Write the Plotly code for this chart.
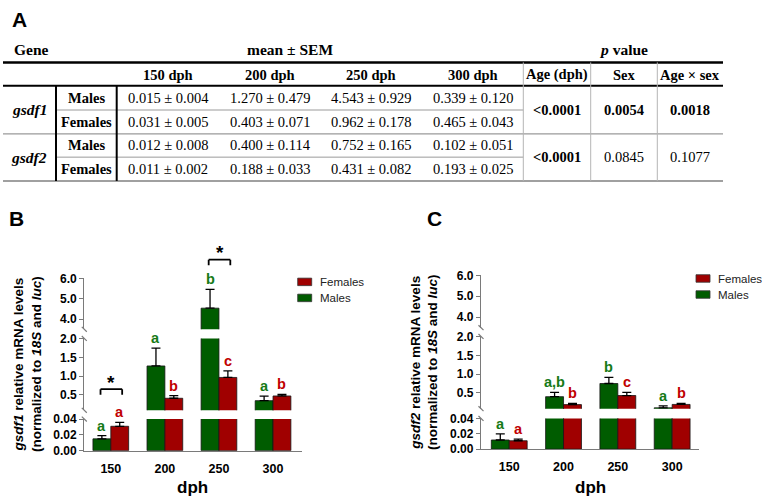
import plotly.graph_objects as go

W, H = 762, 497
def px(x): return x / W
def py(y): return 1 - y / H

# ---------------- data ----------------
dph = ['150', '200', '250', '300']
genes = ['gsdf1', 'gsdf2']
sexes = ['Males', 'Females']

gsdf1_male_mean = [0.015, 1.270, 4.543, 0.339]
gsdf1_male_sem = [0.004, 0.479, 0.929, 0.120]
gsdf1_female_mean = [0.031, 0.403, 0.962, 0.465]
gsdf1_female_sem = [0.005, 0.071, 0.178, 0.043]

gsdf2_male_mean = [0.012, 0.400, 0.752, 0.102]
gsdf2_male_sem = [0.008, 0.114, 0.165, 0.051]
gsdf2_female_mean = [0.011, 0.188, 0.431, 0.193]
gsdf2_female_sem = [0.002, 0.033, 0.082, 0.025]

p_headers = ['Age (dph)', 'Sex', 'Age × sex']
gsdf1_p = ['<0.0001', '0.0054', '0.0018']
gsdf2_p = ['<0.0001', '0.0845', '0.1077']

gsdf1_male_letters = ['a', 'a', 'b', 'a']
gsdf1_female_letters = ['a', 'b', 'c', 'b']
gsdf2_male_letters = ['a', 'a,b', 'b', 'a']
gsdf2_female_letters = ['a', 'b', 'c', 'b']

gsdf1_sig_days = ['150', '250']
gsdf2_sig_days = []

# broken y-axis segments (low, mid, high)
seg_ranges = [(0, 0.0402), (0.08, 2.01), (3.5, 6.02)]
seg_ticks = [[0, 0.02, 0.04], [0.5, 1.0, 1.5, 2.0], [4.0, 5.0, 6.0]]
seg_fmt = ['.2f', '.1f', '.1f']

# ---------------- style ----------------
GREEN = '#005c00'
RED = '#a00000'
GREEN_TXT = '#167a16'
RED_TXT = '#c00000'
AXC = '#7a7a7a'
SANS = 'Liberation Sans, Arial, sans-serif'
SERIF = 'Liberation Serif, Times New Roman, serif'

fig = go.Figure()
shapes = []
annotations = []

def ann(x, y, text, size=14, bold=False, family=SERIF, xanchor='center', color='black', **kw):
    d = dict(x=px(x), y=py(y), xref='paper', yref='paper', text=text, showarrow=False,
             xanchor=xanchor, yanchor='middle',
             font=dict(size=size, family=family, color=color, weight='bold' if bold else 'normal'))
    d.update(kw)
    annotations.append(d)

def hline(y, x0, x1, color, width):
    shapes.append(dict(type='line', xref='paper', yref='paper', x0=px(x0), x1=px(x1),
                       y0=py(y), y1=py(y), line=dict(color=color, width=width)))

def vline(x, y0, y1, color, width):
    shapes.append(dict(type='line', xref='paper', yref='paper', x0=px(x), x1=px(x),
                       y0=py(y0), y1=py(y1), line=dict(color=color, width=width)))

# ---------------- table (panel A) ----------------
ann(10, 12.5, 'A', size=21, bold=True, family=SANS, xanchor='left')
T_L, T_R = 3, 723
row_edges = [81, 106, 130.5, 154.5, 179]
mean_cols = [168, 270, 371, 473]
p_edges = [523.3, 590.7, 657.3, 723]

hline(57, T_L, T_R, 'black', 2.5)
hline(81, T_L, T_R, 'black', 2)
hline(106, 56, p_edges[0], '#9a9a9a', 1)
hline(130.5, T_L, T_R, '#9a9a9a', 1.2)
hline(154.5, 56, p_edges[0], '#9a9a9a', 1)
hline(179, T_L, T_R, '#a0a0a0', 2)
vline(56, 81, 179, 'black', 2)
vline(116.7, 81, 179, 'black', 2)
for xe in p_edges[:-1]:
    vline(xe, 57, 179, '#b5b5b5', 1)

ann(12, 44, 'Gene', size=15.5, bold=True, xanchor='left')
ann(290, 44, 'mean ± SEM', size=15.5, bold=True)
ann((p_edges[0] + p_edges[-1]) / 2, 44, '<i>p</i> value', size=15.5, bold=True)
for c, d in zip(mean_cols, dph):
    ann(c, 69.5, f'{d} dph', size=14.5, bold=True)
for i, h in enumerate(p_headers):
    ann((p_edges[i] + p_edges[i + 1]) / 2, 69.5, h, size=14.5, bold=True)

table_means = {
    'gsdf1': [(gsdf1_male_mean, gsdf1_male_sem), (gsdf1_female_mean, gsdf1_female_sem)],
    'gsdf2': [(gsdf2_male_mean, gsdf2_male_sem), (gsdf2_female_mean, gsdf2_female_sem)],
}
table_p = {'gsdf1': gsdf1_p, 'gsdf2': gsdf2_p}
for gi, g in enumerate(genes):
    g_top, g_bot = row_edges[2 * gi], row_edges[2 * gi + 2]
    ann(29, (g_top + g_bot) / 2, f'<i>{g}</i>', size=15.5, bold=True)
    for si, s in enumerate(sexes):
        r = 2 * gi + si
        yc = (row_edges[r] + row_edges[r + 1]) / 2
        ann(86.5, yc, s, size=14.5, bold=True)
        means, sems = table_means[g][si]
        for c, m, e in zip(mean_cols, means, sems):
            ann(c, yc, f'{m:.3f} ± {e:.3f}', size=14.5)
    for i, p in enumerate(table_p[g]):
        sig = float(p.lstrip('<')) < 0.05
        ann((p_edges[i] + p_edges[i + 1]) / 2, (g_top + g_bot) / 2, p, size=14.5, bold=sig)

# ---------------- bar panels (B, C) ----------------
# ydoms: (top pixel, bottom pixel) for low, mid, high segments
panels = [
    dict(letter='B', gene='gsdf1', xa='x', ya=['y', 'y2', 'y3'],
         male=(gsdf1_male_mean, gsdf1_male_sem), female=(gsdf1_female_mean, gsdf1_female_sem),
         lm=gsdf1_male_letters, lf=gsdf1_female_letters, sig=gsdf1_sig_days,
         xdom=(84.3, 301.7), xr=[-0.49, 3.53],
         ydoms=[(424, 456.5), (341, 415), (279, 331.7)],
         letter_pos=(7, 218), ylab_x=27.5, leg=(297.7, 279)),
    dict(letter='C', gene='gsdf2', xa='x2', ya=['y4', 'y5', 'y6'],
         male=(gsdf2_male_mean, gsdf2_male_sem), female=(gsdf2_female_mean, gsdf2_female_sem),
         lm=gsdf2_male_letters, lf=gsdf2_female_letters, sig=gsdf2_sig_days,
         xdom=(481, 699.3), xr=[-0.52, 3.5],
         ydoms=[(423.3, 455), (339, 413.3), (275.7, 330)],
         letter_pos=(425, 218), ylab_x=424, leg=(696, 275.5)),
]

BW = 0.33
layout_axes = {}
for P in panels:
    xa, ya = P['xa'], P['ya']
    for k, yname in enumerate(ya):
        for (mean, sem), col, off in [(P['male'], GREEN, -BW), (P['female'], RED, 0.0)]:
            fig.add_trace(go.Bar(
                x=dph, y=mean, xaxis=xa, yaxis=yname, width=BW, offset=off,
                marker=dict(color=col, line=dict(color='#151515', width=0.8)),
                error_y=dict(type='data', symmetric=False, array=sem, arrayminus=[0] * len(sem),
                             color='black', thickness=1.3, width=4.5),
                showlegend=False, hoverinfo='skip'))
        ytop_px, ybot_px = P['ydoms'][k]
        layout_axes['yaxis' + yname[1:]] = dict(
            domain=[py(ybot_px), py(ytop_px)], anchor=xa, range=list(seg_ranges[k]),
            tickvals=seg_ticks[k], tickformat=seg_fmt[k], ticks='outside', ticklen=4,
            tickcolor=AXC, tickwidth=1.3, showline=True, linecolor=AXC, linewidth=1.4,
            showgrid=False, zeroline=False,
            tickfont=dict(family=SANS, size=12, color='black', weight='bold'))
        # break marks
        ax_x = P['xdom'][0]
        ends = []
        if k > 0:
            ends.append(ybot_px)
        if k < 2:
            ends.append(ytop_px)
        for ye in ends:
            shapes.append(dict(type='line', xref='paper', yref='paper',
                               x0=px(ax_x - 2.5), y0=py(ye - 2.5), x1=px(ax_x + 2.5), y1=py(ye + 2.5),
                               line=dict(color=AXC, width=1.2)))
    layout_axes['xaxis' + xa[1:]] = dict(
        domain=[px(P['xdom'][0]), px(P['xdom'][1])], anchor=ya[0], type='category',
        range=P['xr'], showline=True, linecolor=AXC, linewidth=1.4, ticks='',
        ticklabelstandoff=6, showgrid=False, zeroline=False,
        tickfont=dict(family=SANS, size=12.5, color='black', weight='bold'))

    # letters above bars
    for (mean, sem), letters, off, tc in [(P['male'], P['lm'], -BW / 2, GREEN_TXT),
                                          (P['female'], P['lf'], BW / 2, RED_TXT)]:
        for i, (m, e, L) in enumerate(zip(mean, sem, letters)):
            top = m + e
            k = next(j for j, (lo, hi) in enumerate(seg_ranges) if top <= hi)
            annotations.append(dict(x=i + off, y=top, xref=xa, yref=P['ya'][k], text=L,
                                    showarrow=False, xanchor='center', yanchor='bottom', yshift=0,
                                    font=dict(family=SANS, size=14.5, color=tc, weight='bold')))

    # significance brackets
    for d in P['sig']:
        i = dph.index(d)
        m_top = P['male'][0][i] + P['male'][1][i]
        f_top = P['female'][0][i] + P['female'][1][i]
        top = max(m_top, f_top)
        k = next(j for j, (lo, hi) in enumerate(seg_ranges) if top <= hi)
        if k + 1 < len(seg_ranges):
            ybr = P['ydoms'][k + 1][1] - 21.7
        else:
            ybr = P['ydoms'][k][0] - 19
        x0, x1 = i - 0.19, i + 0.21
        for sx0, sy0, sx1, sy1 in [(x0, ybr, x1, ybr), (x0, ybr, x0, ybr + 5.7), (x1, ybr, x1, ybr + 5.7)]:
            shapes.append(dict(type='line', xref=xa, yref='paper', x0=sx0, x1=sx1,
                               y0=py(sy0), y1=py(sy1), line=dict(color='black', width=1.8)))
        annotations.append(dict(x=i + 0.01, y=py(ybr - 7), xref=xa, yref='paper', text='*',
                                showarrow=False, xanchor='center', yanchor='middle',
                                font=dict(family=SANS, size=19, color='black', weight='bold')))

    # panel letter
    ann(P['letter_pos'][0], P['letter_pos'][1], P['letter'], size=21, bold=True, family=SANS, xanchor='left')
    # y label
    ytop, ybot = P['ydoms'][2][0], P['ydoms'][0][1]
    annotations.append(dict(x=px(P['ylab_x']), y=py((ytop + ybot) / 2), xref='paper', yref='paper',
                            text=f"<i>{P['gene']}</i> relative mRNA levels<br>(normalized to <i>18S</i> and <i>luc</i>)",
                            textangle=-90, showarrow=False, xanchor='center', yanchor='middle',
                            font=dict(family=SANS, size=13.5, color='black', weight='bold')))
    # x title
    ann((P['xdom'][0] + P['xdom'][1]) / 2, 494, 'dph', size=17, bold=True, family=SANS)
    # legend
    lx, ly = P['leg']
    for j, (name, col) in enumerate([('Females', RED), ('Males', GREEN)]):
        yy = ly + j * 16.5
        shapes.append(dict(type='rect', xref='paper', yref='paper', x0=px(lx), x1=px(lx + 14),
                           y0=py(yy + 7.7), y1=py(yy), fillcolor=col, line=dict(color='#333', width=0.8)))
        ann(lx + 20, yy + 4, name, size=11.5, family=SANS, xanchor='left', color='#222')

fig.update_layout(
    width=W, height=H, margin=dict(l=0, r=0, t=0, b=0),
    paper_bgcolor='white', plot_bgcolor='white',
    barmode='overlay', showlegend=False,
    shapes=shapes, annotations=annotations,
    **layout_axes)

fig.write_html('out.html')
